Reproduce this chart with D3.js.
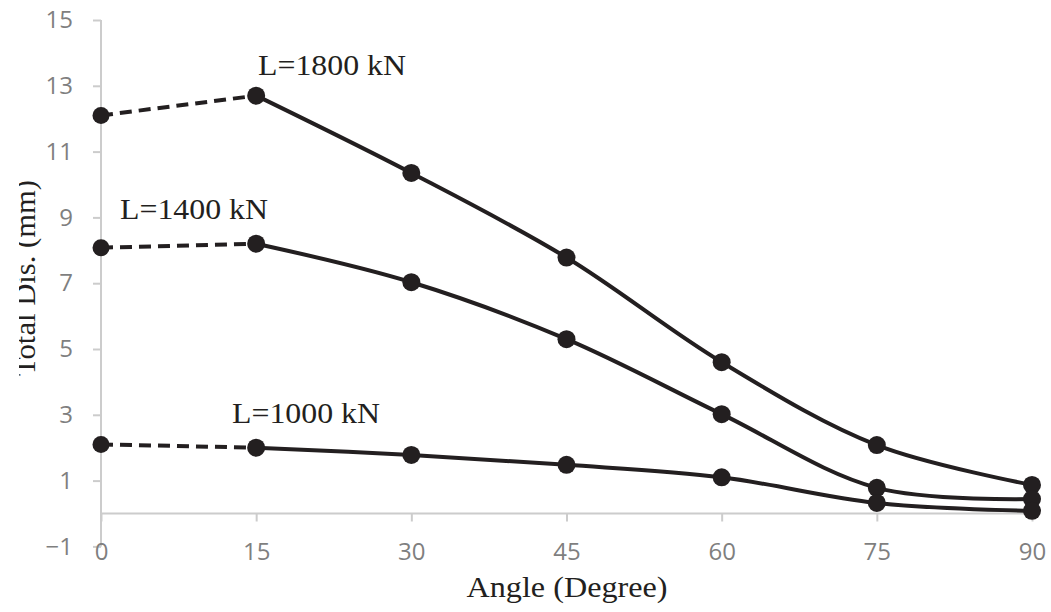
<!DOCTYPE html>
<html>
<head>
<meta charset="utf-8">
<script src="https://cdn.jsdelivr.net/npm/d3@7"></script>
<style>
  html, body { margin: 0; padding: 0; background: #fff; }
  svg { display: block; }
</style>
</head>
<body>
<svg id="chart" width="1051" height="612"></svg>
<script>
// ---- data ----
const angles = [0, 15, 30, 45, 60, 75, 90];
const xTicks = [0, 15, 30, 45, 60, 75, 90];
const yTicks = [-1, 1, 3, 5, 7, 9, 11, 13, 15];
const seriesNames = ["L=1800 kN", "L=1400 kN", "L=1000 kN"];
const dis1800 = [12.1, 12.7, 10.35, 7.78, 4.6, 2.08, 0.87];
const dis1400 = [8.08, 8.2, 7.03, 5.3, 3.02, 0.78, 0.44];
const dis1000 = [2.1, 2.0, 1.78, 1.48, 1.1, 0.32, 0.08];
const xTitle = "Angle (Degree)";
const yTitle = "Total Dis. (mm)";

// ---- layout ----
const svg = d3.select("#chart");
const mLeft = 101, mRight = 1032, mTop = 20, mBottom = 546.4;
const x = d3.scaleLinear().domain([0, 90]).range([mLeft, mRight]);
const y = d3.scaleLinear().domain([-1, 15]).range([mBottom, mTop]);
const ink = "#231f20";
const axisCol = "#cccccc";
const tickTextCol = "#7f7f7f";

// y axis
const yAxis = svg.append("g").attr("transform", `translate(${mLeft},0)`)
  .call(d3.axisLeft(y).tickValues(yTicks).tickSize(8).tickPadding(20).tickFormat(d3.format("d")));
yAxis.select(".domain").attr("stroke", axisCol).attr("stroke-width", 2).attr("d", `M0,${mTop}V${mBottom}`);
yAxis.selectAll(".tick line").attr("stroke", axisCol).attr("stroke-width", 2);
yAxis.selectAll(".tick text").attr("fill", tickTextCol)
  .style("font-family", "'Open Sans', sans-serif").style("font-size", "24px");

// x axis at y=0, labels at bottom
const xAxis = svg.append("g").attr("transform", `translate(0,${y(0)})`)
  .call(d3.axisBottom(x).tickValues(xTicks).tickSize(8).tickPadding(21));
xAxis.select(".domain").attr("stroke", axisCol).attr("stroke-width", 2).attr("d", `M${mLeft},0H${mRight}`);
xAxis.selectAll(".tick line").attr("stroke", axisCol).attr("stroke-width", 2);
xAxis.selectAll(".tick text").attr("fill", tickTextCol)
  .style("font-family", "'Open Sans', sans-serif").style("font-size", "24px");

// ---- series ----
const allSeries = [dis1800, dis1400, dis1000];
const line = d3.line().x(d => x(d[0])).y(d => y(d[1])).curve(d3.curveCatmullRom.alpha(0.5));
const straight = d3.line().x(d => x(d[0])).y(d => y(d[1]));

allSeries.forEach(vals => {
  const pts = angles.map((a, i) => [a, vals[i]]);
  svg.append("path").attr("d", straight(pts.slice(0, 2)))
    .attr("fill", "none").attr("stroke", ink).attr("stroke-width", 4)
    .attr("stroke-dasharray", "12,7");
  svg.append("path").attr("d", line(pts.slice(1)))
    .attr("fill", "none").attr("stroke", ink).attr("stroke-width", 4);
  svg.append("g").selectAll("circle").data(pts).join("circle")
    .attr("cx", d => x(d[0])).attr("cy", d => y(d[1]))
    .attr("r", (d, i) => i === 0 ? 8.5 : 9).attr("fill", ink);
});

// ---- series labels ----
const serif = "'Liberation Serif', 'Times New Roman', serif";
const labelPos = [[258, 75], [120, 219], [232, 423]];
seriesNames.forEach((n, i) => {
  svg.append("text").attr("x", labelPos[i][0]).attr("y", labelPos[i][1])
    .attr("textLength", 148).attr("lengthAdjust", "spacingAndGlyphs")
    .style("font-family", serif).style("font-size", "30px").attr("fill", ink).text(n);
});

// ---- axis titles ----
svg.append("text").attr("x", 567).attr("y", 597).attr("text-anchor", "middle")
  .attr("textLength", 201).attr("lengthAdjust", "spacingAndGlyphs")
  .style("font-family", serif).style("font-size", "30px").attr("fill", ink).text(xTitle);

svg.append("text").attr("transform", `translate(35,278) rotate(-90)`).attr("text-anchor", "middle")
  .attr("textLength", 196).attr("lengthAdjust", "spacingAndGlyphs")
  .style("font-family", serif).style("font-size", "30px").attr("fill", ink).text(yTitle);
// clipped edge of the y title
svg.append("rect").attr("x", 0).attr("y", 0).attr("width", 19).attr("height", 612).attr("fill", "#fff");
</script>
</body>
</html>
